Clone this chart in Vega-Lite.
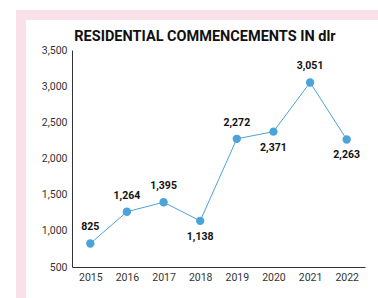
{
  "$schema": "https://vega.github.io/schema/vega-lite/v6.json",
  "width": 362,
  "height": 288,
  "autosize": {"type": "none"},
  "padding": {"left": 21, "top": 15, "right": -5, "bottom": -5},
  "background": "white",
  "config": {
    "view": {"fill": "white", "stroke": "#FAE1E9", "strokeWidth": 10},
    "font": "Roboto"
  },
  "title": {
    "text": "RESIDENTIAL COMMENCEMENTS IN dlr",
    "font": "Roboto",
    "fontSize": 14.5,
    "fontWeight": "bold",
    "color": "#111111",
    "anchor": "middle",
    "offset": -29,
    "dx": 3
  },
  "data": {
    "values": [
      {"year": "2015", "value": 825},
      {"year": "2016", "value": 1264},
      {"year": "2017", "value": 1395},
      {"year": "2018", "value": 1138},
      {"year": "2019", "value": 2272},
      {"year": "2020", "value": 2371},
      {"year": "2021", "value": 3051},
      {"year": "2022", "value": 2263}
    ]
  },
  "encoding": {
    "x": {
      "field": "year", "type": "ordinal",
      "scale": {"type": "point", "range": [51, 344], "padding": 0.5},
      "axis": {"title": null, "labelAngle": 0, "ticks": false, "offset": -36, "domainColor": "#333333", "domainWidth": 1, "labelFontSize": 10.5, "labelColor": "#333333", "labelPadding": 5, "grid": false}
    },
    "y": {
      "field": "value", "type": "quantitative",
      "scale": {"domain": [500, 3500], "range": [252, 35], "nice": false, "zero": false},
      "axis": {"title": null, "values": [500, 1000, 1500, 2000, 2500, 3000, 3500], "ticks": false, "offset": -51, "domainColor": "#333333", "domainWidth": 1, "labelFontSize": 10.5, "labelColor": "#333333", "labelPadding": 5, "grid": false, "format": ",d"}
    }
  },
  "layer": [
    {"mark": {"type": "line", "color": "#4BA3D9", "strokeWidth": 1}},
    {"mark": {"type": "circle", "color": "#4BA3D9", "size": 70, "opacity": 1}},
    {
      "transform": [{"filter": {"field": "year", "oneOf": ["2015", "2016", "2017", "2019", "2021"]}}],
      "mark": {"type": "text", "dy": -16, "fontWeight": "bold", "fontSize": 10.5, "color": "#111111", "baseline": "middle"},
      "encoding": {"text": {"field": "value", "type": "quantitative", "format": ",d"}}
    },
    {
      "transform": [{"filter": {"field": "year", "oneOf": ["2018", "2020", "2022"]}}],
      "mark": {"type": "text", "dy": 16, "fontWeight": "bold", "fontSize": 10.5, "color": "#111111", "baseline": "middle"},
      "encoding": {"text": {"field": "value", "type": "quantitative", "format": ",d"}}
    }
  ]
}
